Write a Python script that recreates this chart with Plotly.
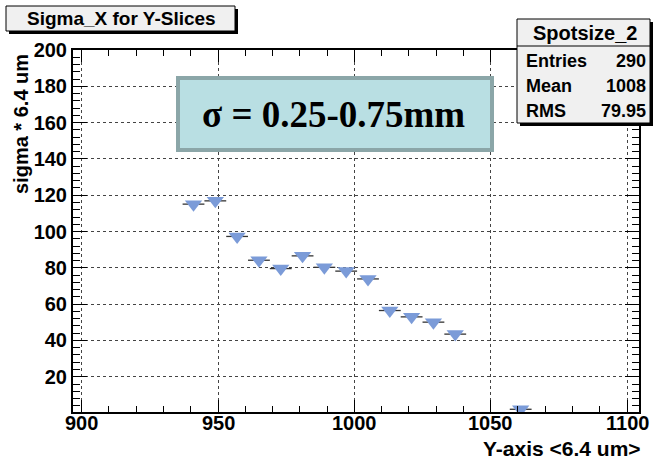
import plotly.graph_objects as go

# Y-slice bin centres and fitted sigma values
slice_centers = [941, 949, 957, 965, 973, 981, 989, 997, 1005, 1013, 1021, 1029, 1037, 1061]
sigma_values = [115.1, 116.9, 97.3, 84.2, 79.6, 86.6, 80.3, 78.2, 73.9, 56.5, 53.0, 50.1, 43.5, 2.1]
bin_half_width = [4] * len(slice_centers)

x_tick_values = [900, 950, 1000, 1050, 1100]
y_tick_values = [20, 40, 60, 80, 100, 120, 140, 160, 180, 200]

hist_name = "Spotsize_2"
stats_rows = [("Entries", "290"), ("Mean", "1008"), ("RMS", "79.95")]
plot_title = "Sigma_X for Y-Slices"
sigma_label = "σ = 0.25-0.75mm"

W, H = 654, 462
L, R, T, B = 73, 639, 50, 412

def px(x):
    return (x - L) / (R - L)

def py(y):
    return (B - y) / (B - T)

FONT = "Liberation Sans, Arial, Helvetica, sans-serif"

fig = go.Figure()
fig.add_trace(go.Scatter(
    x=slice_centers, y=sigma_values, mode="markers",
    marker=dict(symbol="triangle-down", size=15, color="#7b9bd8", line=dict(width=0)),
    error_x=dict(type="data", array=bin_half_width, visible=True, width=0,
                 color="#333333", thickness=1.3),
    showlegend=False,
))

axis_common = dict(
    showline=True, linecolor="black", linewidth=2, mirror="ticks",
    ticks="inside", tickcolor="black", tickwidth=1.3,
    showgrid=True, gridcolor="#444444", griddash="dot", gridwidth=1,
    zeroline=False,
    tickfont=dict(family=FONT, size=20, color="black", weight="bold"),
)

fig.update_xaxes(range=[896.8, 1104.4], tickvals=x_tick_values, ticklen=12,
                 showticklabels=False,
                 minor=dict(dtick=10, tick0=900, ticklen=6, ticks="inside", tickcolor="black",
                            showgrid=False),
                 **axis_common)
fig.update_yaxes(range=[0.6, 200], tickvals=y_tick_values, ticklen=14,
                 minor=dict(dtick=4, tick0=0, ticklen=7, ticks="inside", tickcolor="black",
                            showgrid=False),
                 **axis_common)

shapes = []
annotations = []

def box(x0, y0, x1, y1, fill, line_color="black", line_width=1, shadow=0):
    if shadow:
        shapes.append(dict(type="rect", xref="paper", yref="paper",
                           x0=px(x0 + shadow), x1=px(x1 + shadow),
                           y0=py(y1 + shadow), y1=py(y0 + shadow),
                           fillcolor="black", line=dict(width=0), layer="above"))
    shapes.append(dict(type="rect", xref="paper", yref="paper",
                       x0=px(x0), x1=px(x1), y0=py(y1), y1=py(y0),
                       fillcolor=fill, line=dict(color=line_color, width=line_width),
                       layer="above"))

def text(x, y, s, size, xanchor="center", family=FONT, angle=0, yanchor="middle"):
    annotations.append(dict(xref="paper", yref="paper", x=px(x), y=py(y), text=s,
                            showarrow=False, xanchor=xanchor, yanchor=yanchor,
                            textangle=angle,
                            font=dict(family=family, size=size, color="black", weight="bold")))

# x tick labels, placed close under the axis
for v in x_tick_values:
    annotations.append(dict(xref="x", yref="paper", x=v, y=py(423), text=str(v),
                            showarrow=False, xanchor="center", yanchor="middle",
                            font=dict(family=FONT, size=20, color="black", weight="bold")))

# title box
box(6, 6, 235, 31, "#f0f0f0", shadow=3)
text(121, 19, plot_title, 19)

# statistics box
box(517, 19, 650, 123, "#f0f0f0", shadow=3)
shapes.append(dict(type="line", xref="paper", yref="paper",
                   x0=px(517), x1=px(650), y0=py(46), y1=py(46),
                   line=dict(color="black", width=1), layer="above"))
text(585, 33, hist_name, 20)
for i, (k, v) in enumerate(stats_rows):
    yy = 61 + i * 25
    text(524, yy, k, 18, xanchor="left")
    text(648, yy, v, 18, xanchor="right")

# sigma label box
box(178, 78, 492, 150, "#b9dfe3", line_color="#8ba6a8", line_width=4)
text(333, 114, sigma_label, 37, family="Liberation Serif, Times New Roman, serif")

# axis titles
text(643, 449, "Y-axis <6.4 um>", 21, xanchor="right")
text(21, 52, "sigma * 6.4 um", 20, angle=-90, yanchor="top")

fig.update_layout(
    width=W, height=H,
    margin=dict(l=L, r=W - R, t=T, b=H - B),
    paper_bgcolor="white", plot_bgcolor="white",
    shapes=shapes, annotations=annotations,
)

fig.write_html("out.html")
